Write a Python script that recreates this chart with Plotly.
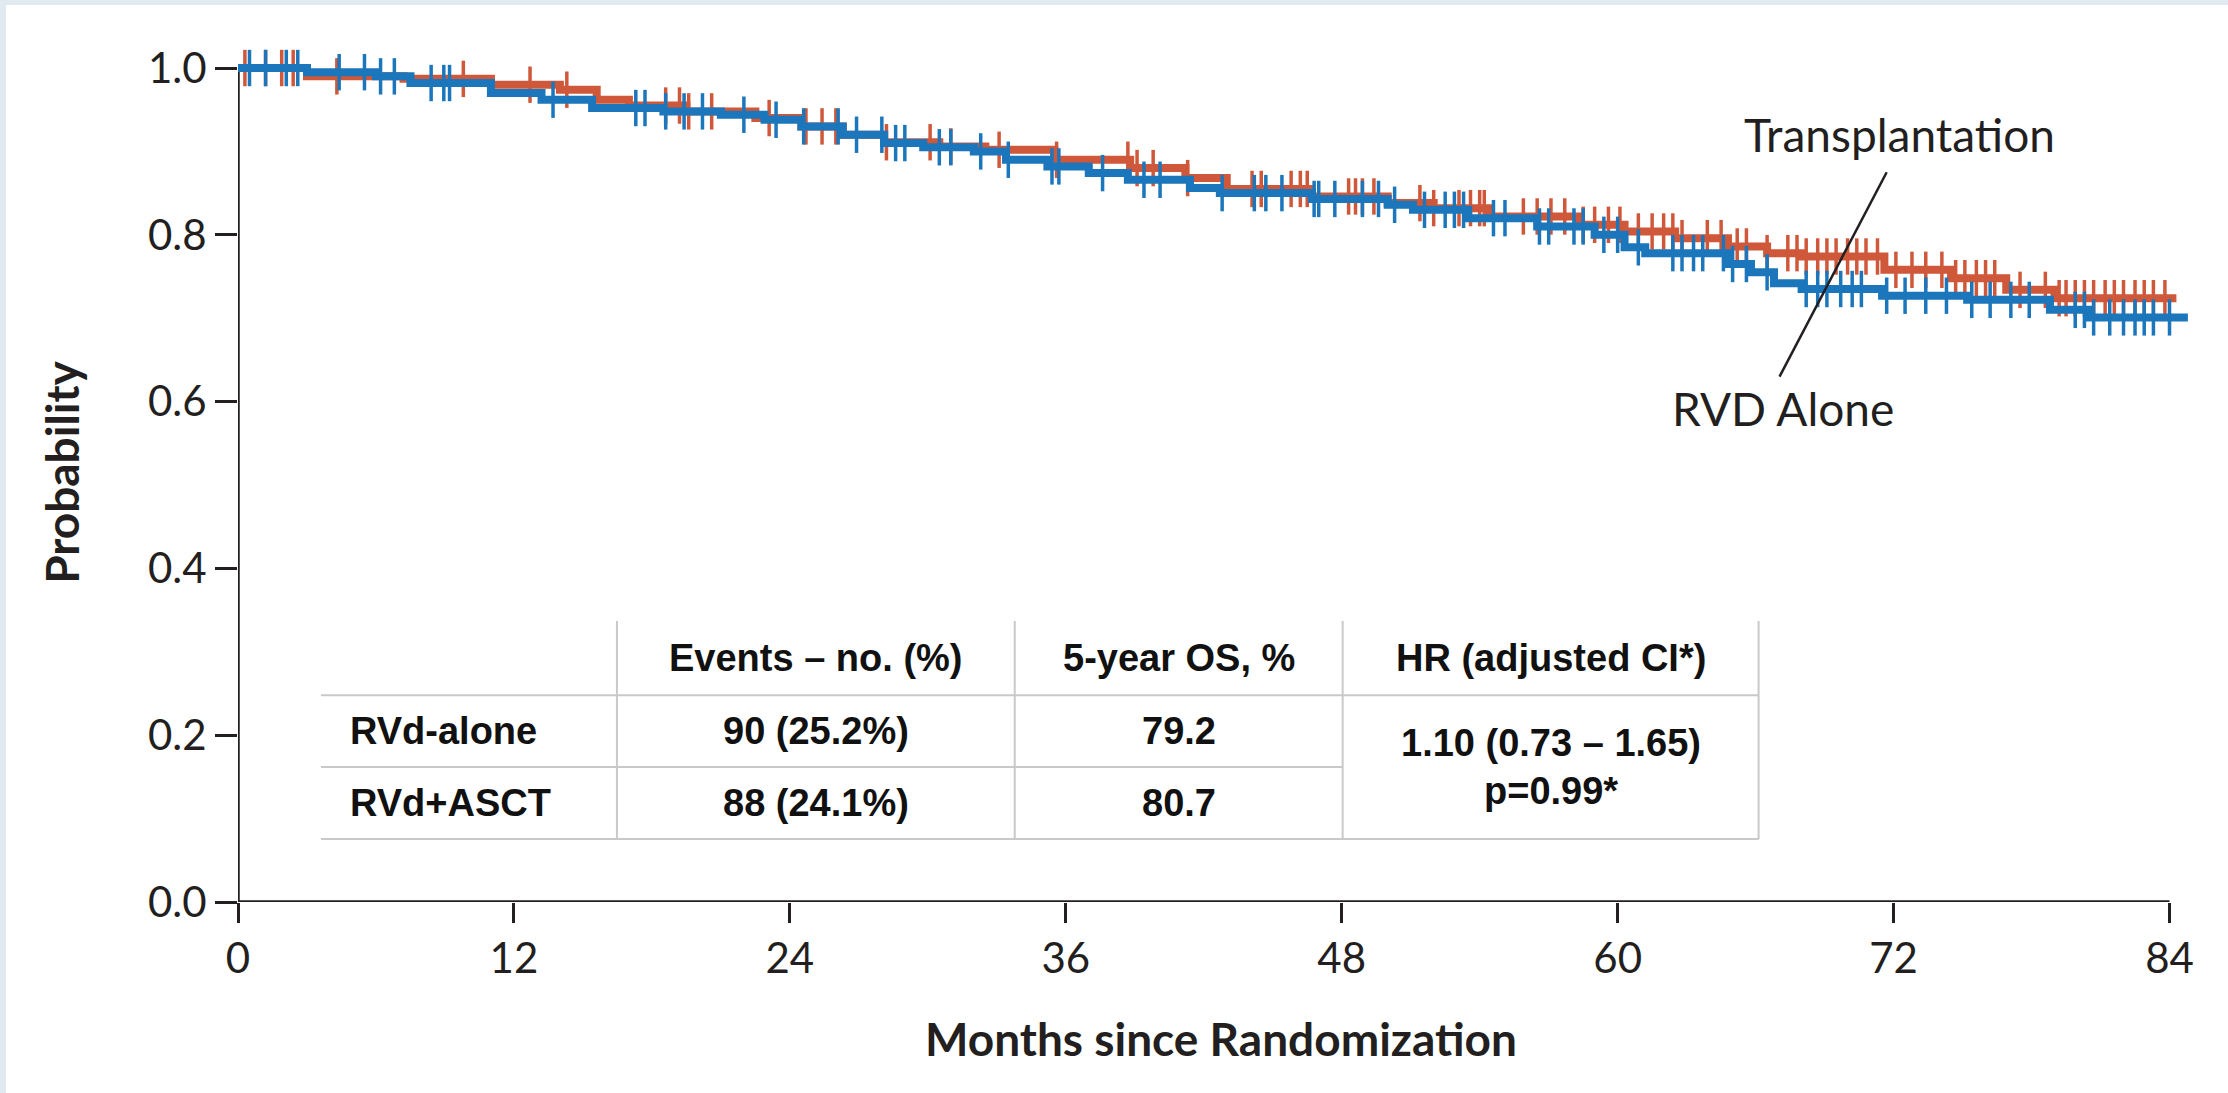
import bisect
import plotly.graph_objects as go

# ---------------- data ----------------
MONTH_TICKS = [0, 12, 24, 36, 48, 60, 72, 84]
PROB_TICKS = [0.0, 0.2, 0.4, 0.6, 0.8, 1.0]

# Transplantation (RVd + ASCT) Kaplan-Meier steps
ASCT_TIMES = [0, 3.0, 7.2, 11.0, 14.0, 15.6, 17.0, 19.5, 22.5, 24.5, 26.3, 28.1, 30.5, 32.5,
              35.5, 38.8, 41.2, 43.0, 46.7, 50.0, 52.0, 54.4, 58.3, 60.3, 62.5, 64.8, 66.5,
              68.0, 71.6, 74.5, 76.9, 79.0, 84.3]
ASCT_SURV = [1.0, 0.990, 0.987, 0.980, 0.974, 0.962, 0.955, 0.948, 0.940, 0.930, 0.920, 0.911,
             0.906, 0.902, 0.890, 0.880, 0.868, 0.855, 0.846, 0.838, 0.832, 0.822, 0.812, 0.804,
             0.796, 0.786, 0.778, 0.774, 0.758, 0.748, 0.734, 0.724, 0.724]
ASCT_CENSOR = [0.3, 1.2, 1.9, 2.4, 4.3, 9.8, 12.7, 14.3, 18.6, 19.2, 19.6, 20.6, 23.1, 24.7, 25.4,
               26.0, 28.2, 30.1, 31.0, 33.1, 35.6, 38.7, 39.1, 39.8, 41.3, 44.1, 44.5, 45.8, 46.2,
               46.5, 48.3, 48.6, 48.9, 49.4, 51.4, 52.0, 53.1, 53.6, 54.0, 54.2, 55.9, 56.5, 57.1,
               57.7, 58.5, 59.0, 59.6, 60.1, 60.9, 61.5, 62.0, 62.4, 62.8, 63.9, 64.5, 65.2, 65.6,
               66.5, 67.4, 67.8, 68.2, 68.7, 69.1, 69.5, 70.0, 70.4, 70.8, 71.3, 72.1, 72.8, 73.4,
               74.1, 74.7, 75.1, 75.6, 76.0, 76.4, 77.5, 78.6, 79.2, 79.5, 79.9, 80.3, 80.7, 81.2,
               81.6, 82.0, 82.5, 82.9, 83.3, 83.8]

# RVD alone Kaplan-Meier steps
ALONE_TIMES = [0, 3.0, 6.0, 7.5, 11.0, 13.2, 15.4, 18.5, 21.0, 22.9, 24.5, 26.3, 28.1, 29.8,
               32.0, 33.4, 35.2, 37.0, 38.7, 41.4, 42.7, 46.7, 50.0, 51.1, 53.5, 56.5, 59.0,
               60.3, 61.2, 64.8, 65.8, 66.8, 68.0, 71.5, 75.2, 78.8, 80.5, 84.8]
ALONE_SURV = [1.0, 0.995, 0.990, 0.982, 0.970, 0.962, 0.952, 0.948, 0.944, 0.938, 0.930, 0.920,
              0.910, 0.905, 0.900, 0.890, 0.882, 0.874, 0.866, 0.856, 0.850, 0.843, 0.836, 0.830,
              0.820, 0.810, 0.800, 0.785, 0.778, 0.765, 0.755, 0.742, 0.735, 0.727, 0.722, 0.710,
              0.701, 0.701]
ALONE_CENSOR = [0.5, 1.2, 2.1, 2.6, 4.4, 5.5, 6.2, 6.8, 8.4, 8.95, 9.2, 13.7, 17.3, 17.7, 18.6,
                19.4, 20.2, 22.0, 23.4, 24.6, 26.1, 26.9, 28.0, 28.6, 29.0, 30.5, 31.0, 32.3, 33.5,
                35.4, 35.7, 37.6, 39.4, 40.1, 42.8, 44.2, 44.7, 45.4, 46.8, 47.0, 47.7, 48.9, 49.6,
                50.3, 51.6, 52.5, 52.9, 53.3, 54.6, 55.1, 56.6, 57.0, 58.1, 58.5, 59.4, 60.0, 60.9,
                62.4, 62.8, 63.3, 63.7, 64.6, 65.0, 65.6, 66.5, 68.2, 68.7, 69.1, 69.7, 70.2, 70.6,
                71.7, 72.5, 73.4, 74.3, 75.4, 76.2, 77.1, 77.9, 79.9, 80.3, 80.7, 81.4, 82.0, 82.5,
                82.9, 83.3, 84.0]

# Table contents
TABLE_HEADER = ["Events – no. (%)", "5-year OS, %", "HR (adjusted CI*)"]
TABLE_GROUPS = ["RVd-alone", "RVd+ASCT"]
TABLE_EVENTS = ["90 (25.2%)", "88 (24.1%)"]
TABLE_OS5 = ["79.2", "80.7"]
TABLE_HR = ["1.10 (0.73 – 1.65)", "p=0.99*"]

# ---------------- styling ----------------
INK = "#231f20"
ORANGE = "#d0583a"
BLUE = "#1b76bb"
GRID_GREY = "#c9c9c9"
PAGE_BG = "#e1e9f1"
TICK_FONT = dict(family="Lato, sans-serif", size=42, color=INK)
TITLE_FONT = dict(family="Lato, sans-serif", size=46, color=INK)
TABLE_FONT = dict(family="Liberation Sans, Arial, sans-serif", size=38, color="#111111")


def surv_at(times, surv, t):
    i = bisect.bisect_right(times, t) - 1
    return surv[max(i, 0)]


fig = go.Figure()

for times, surv, cens, color in [
    (ASCT_TIMES, ASCT_SURV, ASCT_CENSOR, ORANGE),
    (ALONE_TIMES, ALONE_SURV, ALONE_CENSOR, BLUE),
]:
    fig.add_trace(go.Scatter(
        x=times, y=surv, mode="lines",
        line=dict(shape="hv", width=8, color=color),
        showlegend=False, hoverinfo="skip",
    ))
    fig.add_trace(go.Scatter(
        x=cens, y=[surv_at(times, surv, t) for t in cens], mode="markers",
        marker=dict(symbol="line-ns", size=26, line=dict(width=3.5, color=color)),
        cliponaxis=False, showlegend=False, hoverinfo="skip",
    ))

# ---------------- table (grid lines + text) ----------------
TX = [3.61, 16.48, 33.78, 48.04, 66.13]   # column boundaries (months)
TY = [0.337, 0.248, 0.162, 0.0755]        # row boundaries (probability)
shapes = []
line_style = dict(color=GRID_GREY, width=2)
for y, x1 in [(TY[1], TX[4]), (TY[2], TX[3]), (TY[3], TX[4])]:
    shapes.append(dict(type="line", xref="x", yref="y", x0=TX[0], x1=x1, y0=y, y1=y,
                       line=line_style, layer="below"))
for x in TX[1:]:
    shapes.append(dict(type="line", xref="x", yref="y", x0=x, x1=x, y0=TY[3], y1=TY[0],
                       line=line_style, layer="below"))

annotations = []
col_centers = [(TX[1] + TX[2]) / 2, (TX[2] + TX[3]) / 2, (TX[3] + TX[4]) / 2]
head_y = (TY[0] + TY[1]) / 2
for cx, txt in zip(col_centers, TABLE_HEADER):
    annotations.append(dict(x=cx, y=head_y, xref="x", yref="y", text=f"<b>{txt}</b>",
                            showarrow=False, font=TABLE_FONT, xanchor="center", yanchor="middle"))
row_ys = [(TY[1] + TY[2]) / 2, (TY[2] + TY[3]) / 2]
for ry, g, ev, os5 in zip(row_ys, TABLE_GROUPS, TABLE_EVENTS, TABLE_OS5):
    annotations.append(dict(x=TX[0] + 1.17, y=ry, xref="x", yref="y", text=f"<b>{g}</b>",
                            showarrow=False, font=TABLE_FONT, xanchor="left", yanchor="middle"))
    annotations.append(dict(x=col_centers[0], y=ry, xref="x", yref="y", text=f"<b>{ev}</b>",
                            showarrow=False, font=TABLE_FONT, xanchor="center", yanchor="middle"))
    annotations.append(dict(x=col_centers[1], y=ry, xref="x", yref="y", text=f"<b>{os5}</b>",
                            showarrow=False, font=TABLE_FONT, xanchor="center", yanchor="middle"))
hr_mid = (TY[1] + TY[3]) / 2
for dy, txt in zip([0.029, -0.029], TABLE_HR):
    annotations.append(dict(x=col_centers[2], y=hr_mid + dy, xref="x", yref="y",
                            text=f"<b>{txt}</b>", showarrow=False, font=TABLE_FONT,
                            xanchor="center", yanchor="middle"))

# curve labels and leader line
annotations.append(dict(x=72.26, y=0.920, xref="x", yref="y", text="Transplantation",
                        showarrow=False, font=TITLE_FONT, xanchor="center", yanchor="middle"))
annotations.append(dict(x=67.2, y=0.592, xref="x", yref="y", text="RVD Alone",
                        showarrow=False, font=TITLE_FONT, xanchor="center", yanchor="middle"))
shapes.append(dict(type="line", xref="x", yref="y", x0=71.7, y0=0.875, x1=67.04, y1=0.63,
                   line=dict(color=INK, width=2.5), layer="above"))

# axis lines
shapes.append(dict(type="line", xref="x", yref="y", x0=0, x1=84, y0=0, y1=0,
                   line=dict(color=INK, width=3.5), layer="below"))
shapes.append(dict(type="line", xref="x", yref="y", x0=0, x1=0, y0=0, y1=1.0,
                   line=dict(color=INK, width=3.5), layer="below"))

# white card over the light-blue page (light strip only on top and left)
shapes.insert(0, dict(type="rect", xref="paper", yref="paper", x0=-0.118, x1=1.2,
                      y0=-0.4, y1=1.0442, fillcolor="white", line=dict(width=0), layer="below"))

fig.update_layout(
    width=2228, height=1093,
    margin=dict(l=238, r=23.5, t=43, b=191, autoexpand=False),
    paper_bgcolor=PAGE_BG, plot_bgcolor="rgba(0,0,0,0)",
    shapes=shapes, annotations=annotations,
    xaxis=dict(range=[0, 85.5], tickvals=MONTH_TICKS, ticks="outside", ticklen=20, tickwidth=3,
               tickcolor=INK, showline=False, showgrid=False, zeroline=False, tickfont=TICK_FONT,
               automargin=False,
               title=dict(text="<b>Months since Randomization</b>", font=TITLE_FONT, standoff=42)),
    yaxis=dict(range=[0, 1.03], tickvals=PROB_TICKS, tickformat=".1f", ticks="outside",
               ticklen=22, tickwidth=3, tickcolor=INK, showline=False, showgrid=False,
               zeroline=False, tickfont=TICK_FONT, automargin=False,
               title=dict(text="<b>Probability</b>", font=TITLE_FONT, standoff=53)),
)

fig.write_html(
    "out.html",
    config={"displayModeBar": False},
    post_script="document.body.style.margin='0px';document.body.style.overflow='hidden';"
                "document.body.style.background='" + PAGE_BG + "';",
)
